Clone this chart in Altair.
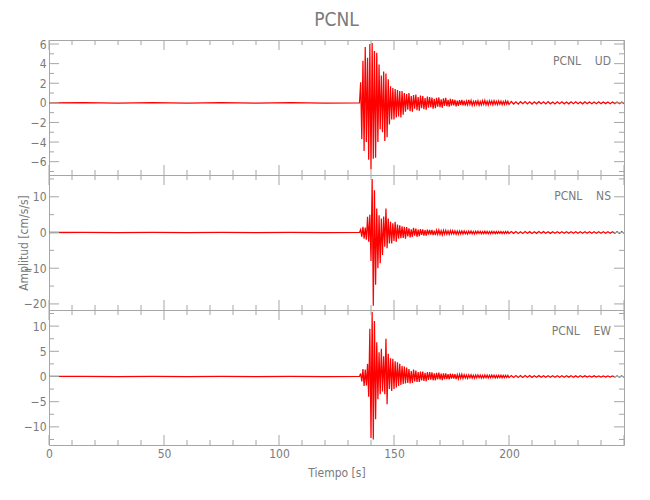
import altair as alt
import pandas as pd

# ---------------- data ----------------
PRE_TIMES = [0, 15, 30, 45, 60, 75, 90, 105, 120, 135]
ACTIVE_START, ACTIVE_STEP = 135.5, 0.5
TAIL1_STEP = 0.5
TAIL2_STEP = 1.0

UD_PRE = [0.0, 0.03, -0.02, 0.02, -0.03, 0.02, -0.02, 0.03, -0.02, 0.0]
UD_ACTIVE = [
    2.1, -3.7, 4.3, -4.9, 5.7, -4.0, 4.6, -5.8, 6.0, -6.8,
    6.1, -5.7, 5.3, -5.6, 5.1, -4.0, 3.9, -2.7, 2.8, -3.0,
    3.2, -3.9, 3.0, -3.5, 2.4, -2.2, 1.7, -1.7, 1.5, -1.7,
    1.4, -1.5, 1.3, -1.4, 1.2, -1.5, 1.2, -1.2, 1.0, -0.9,
    0.9, -0.7, 1.0, -0.85, 0.7, -0.9, 0.8, -0.6, 0.85, -0.75,
    0.6, -0.8, 0.75, -0.55, 0.7, -0.65, 0.5, -0.7, 0.65, -0.5,
    0.6, -0.45, 0.55, -0.6, 0.4, -0.55, 0.5, -0.4, 0.55, -0.45,
    0.35, -0.5, 0.45, -0.3, 0.5, -0.35, 0.3, -0.4, 0.4, -0.28,
    0.35, -0.25, 0.3, -0.35, 0.22, -0.3, 0.28, -0.2, 0.3, -0.25,
]
UD_TAIL1 = [
    0.22, -0.28, 0.18, -0.2, 0.3, -0.16, 0.24, -0.26, 0.15, -0.22,
    0.26, -0.18, 0.2, -0.24, 0.14, -0.2, 0.22, -0.15, 0.25, -0.19,
    0.16, -0.22, 0.2, -0.14, 0.18, -0.2, 0.22, -0.16, 0.15, -0.19,
    0.2, -0.13, 0.17, -0.18, 0.14, -0.16, 0.19, -0.12, 0.16, -0.17,
]
UD_TAIL2 = [
    0.14, -0.12, 0.1, -0.13, 0.12, -0.09, 0.13, -0.11, 0.1, -0.12,
    0.11, -0.1, 0.12, -0.09, 0.1, -0.11, 0.12, -0.1, 0.09, -0.11,
    0.1, -0.09, 0.11, -0.1, 0.09, -0.1, 0.11, -0.08, 0.1, -0.09,
    0.09, -0.1, 0.1, -0.08, 0.09, -0.1, 0.08, -0.09, 0.1, -0.08,
    0.09, -0.08, 0.08, -0.09, 0.09, -0.08, 0.08, -0.09, 0.08, -0.08,
]

NS_PRE = [0.0, 0.05, -0.05, 0.04, -0.05, 0.05, -0.04, 0.05, -0.05, 0.0]
NS_ACTIVE = [
    0.8, -1.2, 1.6, -1.7, 1.4, -2.0, 4.4, -2.6, 5.0, -8.0,
    15.0, -20.5, 11.8, -14.6, 6.7, -10.0, 4.8, -8.6, 3.9, -6.3,
    4.5, -4.0, 6.7, -4.4, 3.9, -3.1, 3.0, -3.1, 2.6, -2.4,
    3.0, -2.6, 2.2, -1.7, 2.0, -1.6, 1.7, -1.5, 1.6, -1.7,
    1.5, -1.1, 1.2, -1.4, 0.9, -1.2, 1.3, -0.9, 1.1, -1.2,
    0.8, -1.0, 0.95, -0.7, 0.9, -0.85, 0.65, -0.9, 0.8, -0.6,
    0.75, -0.6, 0.7, -0.75, 0.55, -0.7, 0.65, -0.5, 0.7, -0.55,
    0.5, -0.65, 0.6, -0.45, 0.6, -0.5, 0.45, -0.55, 0.55, -0.4,
    0.5, -0.4, 0.45, -0.5, 0.38, -0.45, 0.45, -0.35, 0.45, -0.4,
]
NS_TAIL1 = [
    0.42, -0.35, 0.3, -0.45, 0.38, -0.28, 0.4, -0.36, 0.3, -0.4,
    0.35, -0.3, 0.38, -0.27, 0.33, -0.36, 0.28, -0.32, 0.35, -0.3,
    0.3, -0.34, 0.27, -0.3, 0.33, -0.26, 0.3, -0.31, 0.26, -0.3,
    0.3, -0.25, 0.28, -0.29, 0.25, -0.28, 0.29, -0.24, 0.27, -0.27,
]
NS_TAIL2 = [
    0.26, -0.24, 0.25, -0.26, 0.23, -0.25, 0.26, -0.22, 0.24, -0.25,
    0.23, -0.24, 0.25, -0.22, 0.24, -0.23, 0.22, -0.24, 0.23, -0.22,
    0.22, -0.23, 0.21, -0.22, 0.23, -0.21, 0.22, -0.22, 0.2, -0.22,
    0.21, -0.2, 0.22, -0.21, 0.2, -0.21, 0.21, -0.2, 0.2, -0.21,
    0.2, -0.19, 0.2, -0.2, 0.19, -0.2, 0.2, -0.19, 0.19, -0.2,
]

EW_PRE = [0.0, 0.04, -0.04, 0.03, -0.04, 0.04, -0.03, 0.04, -0.04, 0.0]
EW_ACTIVE = [
    0.6, -1.0, 1.5, -1.9, 1.4, -1.8, 2.5, -4.0, 9.5, -12.2,
    12.8, -12.5, 11.0, -8.5, 6.8, -4.5, 4.8, -3.5, 5.5, -3.0,
    4.0, -3.5, 7.5, -5.5, 4.5, -2.5, 3.6, -2.9, 3.5, -2.5,
    3.0, -2.2, 2.8, -1.9, 2.5, -1.7, 2.1, -1.5, 2.0, -1.4,
    1.8, -1.3, 1.5, -1.4, 1.1, -1.3, 1.4, -1.0, 1.2, -1.1,
    0.9, -1.1, 1.0, -0.8, 1.0, -0.9, 0.75, -0.95, 0.85, -0.7,
    0.85, -0.65, 0.8, -0.75, 0.6, -0.75, 0.7, -0.55, 0.75, -0.6,
    0.55, -0.7, 0.6, -0.5, 0.62, -0.5, 0.45, -0.58, 0.55, -0.42,
    0.5, -0.42, 0.45, -0.5, 0.38, -0.45, 0.42, -0.35, 0.45, -0.38,
]
EW_TAIL1 = [
    0.36, -0.3, 0.28, -0.38, 0.32, -0.25, 0.34, -0.3, 0.26, -0.33,
    0.3, -0.26, 0.32, -0.24, 0.28, -0.3, 0.24, -0.28, 0.3, -0.25,
    0.26, -0.29, 0.23, -0.26, 0.28, -0.22, 0.26, -0.27, 0.22, -0.25,
    0.25, -0.21, 0.24, -0.25, 0.21, -0.23, 0.24, -0.2, 0.22, -0.22,
]
EW_TAIL2 = [
    0.2, -0.18, 0.19, -0.2, 0.17, -0.19, 0.18, -0.16, 0.18, -0.17,
    0.16, -0.17, 0.17, -0.15, 0.16, -0.16, 0.15, -0.16, 0.16, -0.14,
    0.15, -0.15, 0.14, -0.15, 0.15, -0.13, 0.14, -0.14, 0.13, -0.14,
    0.14, -0.13, 0.13, -0.13, 0.12, -0.13, 0.13, -0.12, 0.12, -0.13,
    0.12, -0.12, 0.13, -0.12, 0.12, -0.11, 0.12, -0.12, 0.11, -0.12,
]

X_DOMAIN = [0, 250]
X_LABELS = [0, 50, 100, 150, 200]
X_MAJOR = [0, 50, 100, 150, 200, 250]
X_MINOR = [10, 20, 30, 40, 60, 70, 80, 90, 110, 120, 130, 140,
           160, 170, 180, 190, 210, 220, 230, 240]

UD_DOMAIN = [-7.36, 6.41]
UD_MAJOR = [-6, -4, -2, 0, 2, 4, 6]
UD_MINOR = [-7, -5, -3, -1, 1, 3, 5]
NS_DOMAIN = [-21.7, 16.1]
NS_MAJOR = [-20, -10, 0, 10]
NS_MINOR = [-15, -5, 5, 15]
EW_DOMAIN = [-13.6, 13.2]
EW_MAJOR = [-10, -5, 0, 5, 10]
EW_MINOR = [-12.5, -7.5, -2.5, 2.5, 7.5, 12.5]

STATION = "PCNL"


def build_series(pre, active, tail1, tail2):
    t = list(PRE_TIMES)
    a = list(pre)
    for i, v in enumerate(active):
        t.append(ACTIVE_START + ACTIVE_STEP * i)
        a.append(v)
    last = t[-1]
    for i, v in enumerate(tail1):
        t.append(last + TAIL1_STEP * (i + 1))
        a.append(v)
    last = t[-1]
    for i, v in enumerate(tail2):
        t.append(last + TAIL2_STEP * (i + 1))
        a.append(v)
    return pd.DataFrame({"t": t, "a": a})


# ---------------- styling ----------------
W, H = 575, 135
FONT = '"DejaVu Sans Condensed", "Liberation Sans", sans-serif'
TXT = "#7a7a7a"
GRID = "#a6a6a6"
MAJ, MIN = 10, 5


def panel(comp, df, ydom, ymaj, ymin, last=False, ytitle=None, title=None):
    xs = alt.Scale(domain=X_DOMAIN, nice=False, zero=False)
    ys = alt.Scale(domain=ydom, nice=False, zero=False)
    if last:
        xaxis = alt.Axis(values=X_LABELS, ticks=False, domain=False, grid=False,
                         labelPadding=3, title="Tiempo [s]", titlePadding=8,
                         labelFlush=False)
    else:
        xaxis = None
    if ytitle:
        yaxis = alt.Axis(values=ymaj, ticks=False, domain=False, grid=False,
                         labelPadding=3, title=ytitle, titleX=-26,
                         titleY=H / 2, titleAngle=-90, titleAlign="center",
                         titleBaseline="middle")
    else:
        yaxis = alt.Axis(values=ymaj, ticks=False, domain=False, grid=False,
                         labelPadding=3, title=None)

    def X():
        return alt.X("t:Q", scale=xs, axis=xaxis)

    def Y():
        return alt.Y("a:Q", scale=ys, axis=yaxis)

    wave = alt.Chart(df).mark_line(color="#ff0000", strokeWidth=1.25,
                                   clip=True).encode(x=X(), y=Y())

    layers = [wave]
    for vals, ln in ((ymaj, MAJ), (ymin, MIN)):
        d = pd.DataFrame({"a": vals})
        layers.append(alt.Chart(d).mark_rule(color=GRID).encode(
            y=Y(), x=alt.value(0), x2=alt.value(ln)))
        layers.append(alt.Chart(d).mark_rule(color=GRID).encode(
            y=Y(), x=alt.value(W), x2=alt.value(W - ln)))
    for vals, ln in ((X_MAJOR, MAJ), (X_MINOR, MIN)):
        d = pd.DataFrame({"t": vals})
        layers.append(alt.Chart(d).mark_rule(color=GRID).encode(
            x=X(), y=alt.value(0), y2=alt.value(ln)))
        layers.append(alt.Chart(d).mark_rule(color=GRID).encode(
            x=X(), y=alt.value(H), y2=alt.value(H - ln)))

    lab = pd.DataFrame({"label": [STATION + "\u00a0\u00a0\u00a0\u00a0" + comp]})
    layers.append(alt.Chart(lab).mark_text(
        align="right", baseline="middle", font=FONT, fontSize=12, color=TXT
    ).encode(x=alt.value(562), y=alt.value(21), text="label:N"))

    props = dict(width=W, height=H)
    if title:
        props["title"] = alt.TitleParams(title, font=FONT, fontSize=19,
                                         fontWeight="normal", color=TXT,
                                         anchor="middle", frame="group",
                                         offset=8)
    return alt.layer(*layers).properties(**props)


ud = panel("UD", build_series(UD_PRE, UD_ACTIVE, UD_TAIL1, UD_TAIL2),
           UD_DOMAIN, UD_MAJOR, UD_MINOR, title=STATION)
ns = panel("NS", build_series(NS_PRE, NS_ACTIVE, NS_TAIL1, NS_TAIL2),
           NS_DOMAIN, NS_MAJOR, NS_MINOR, ytitle="Amplitud [cm/s/s]")
ew = panel("EW", build_series(EW_PRE, EW_ACTIVE, EW_TAIL1, EW_TAIL2),
           EW_DOMAIN, EW_MAJOR, EW_MINOR, last=True)

chart = alt.vconcat(ud, ns, ew, spacing=0, bounds="flush").properties(
    padding={"left": 8, "top": 2, "right": 5, "bottom": 5}
).configure_view(stroke=GRID, strokeWidth=1).configure_axis(
    labelFont=FONT, labelFontSize=12, labelColor=TXT,
    titleFont=FONT, titleFontSize=12, titleColor=TXT, titleFontWeight="normal"
)

chart.save("out.html", embed_options={"renderer": "svg", "actions": False})
